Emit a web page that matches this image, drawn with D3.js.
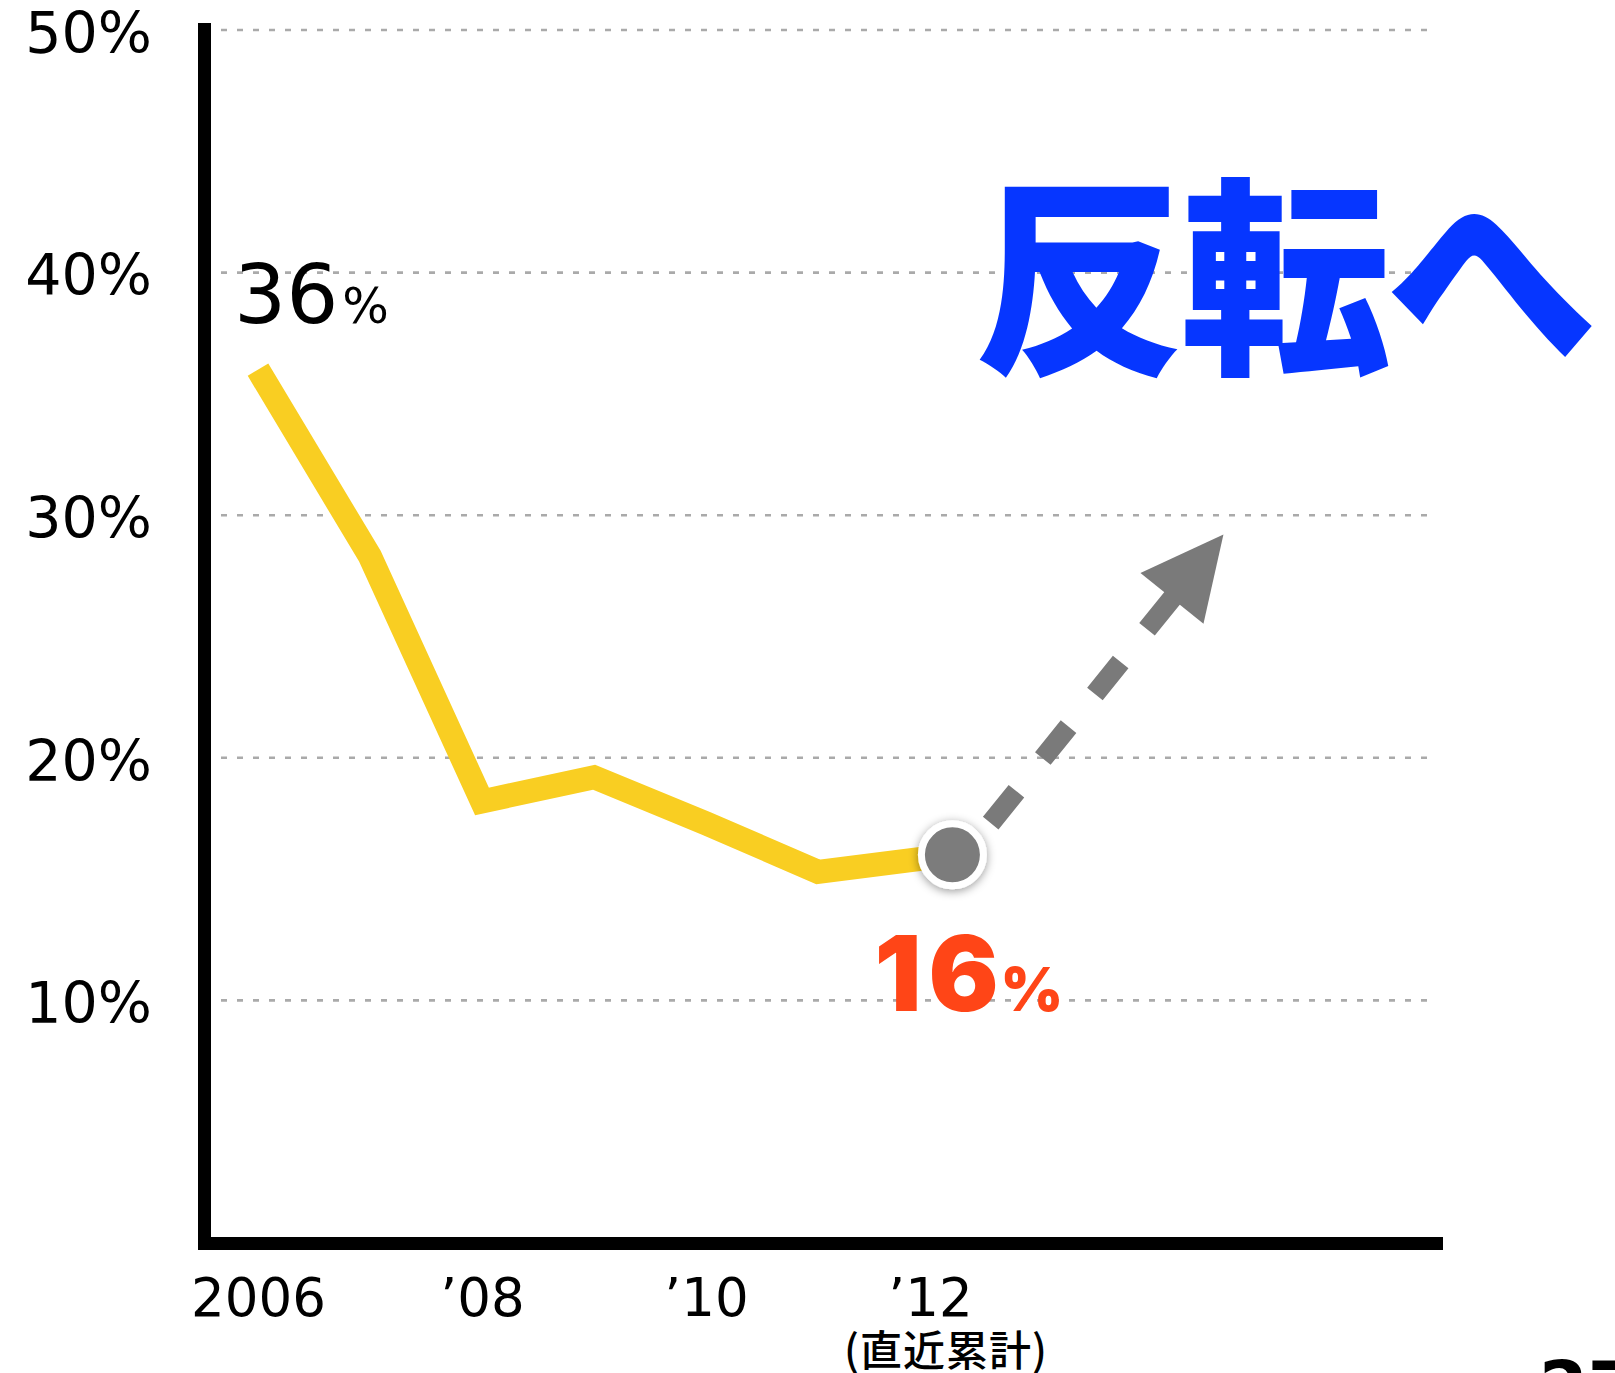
<!DOCTYPE html>
<html lang="ja">
<head>
<meta charset="utf-8">
<script src="https://cdn.jsdelivr.net/npm/d3@7"></script>
<style>
  html, body { margin: 0; padding: 0; background: #fff; }
  svg { display: block; }
</style>
</head>
<body>
<svg id="chart" width="1615" height="1373"></svg>
<script>
// Share by year (%); the last figure is the latest cumulative value,
// plotted a little past the '12 tick.
const years  = [2006, 2007, 2008, 2009, 2010, 2011, 2012.2];
const shares = [36, 28.3, 18.2, 19.2, 17.3, 15.3, 16];

const yTicks = [10, 20, 30, 40, 50];
const xTicks = [2006, 2008, 2010, 2012];
const xTickLabels = ["2006", "’08", "’10", "’12"];
const xTickNote = "(直近累計)";

const headline = "反転へ";
const pageNumber = "27";

// Projected-upturn arrow: tail just below the latest dot, head up to the right (year, %)
const arrowFrom = { year: 2012.2, value: 15.35 };
const arrowTo   = { year: 2014.62, value: 29.2 };

const svg = d3.select("#chart");

const x = d3.scaleLinear().domain([2006, 2012]).range([258, 930]);
const y = d3.scaleLinear().domain([0, 50]).range([1243, 30]);

const defs = svg.append("defs");
const shadow = defs.append("filter")
  .attr("id", "dotShadow")
  .attr("x", "-50%").attr("y", "-50%")
  .attr("width", "200%").attr("height", "200%");
shadow.append("feDropShadow")
  .attr("dx", 0).attr("dy", 2)
  .attr("stdDeviation", 5)
  .attr("flood-color", "#000")
  .attr("flood-opacity", 0.4);

// Dashed horizontal gridlines
svg.append("g")
  .selectAll("line")
  .data(yTicks)
  .join("line")
  .attr("x1", 221).attr("x2", 1427)
  .attr("y1", d => y(d)).attr("y2", d => y(d))
  .attr("stroke", "#aaaaaa")
  .attr("stroke-width", 2.6)
  .attr("stroke-dasharray", "6 10");

// Y axis labels
const yAxis = svg.append("g")
  .attr("transform", "translate(152,0)")
  .call(d3.axisLeft(y).tickValues(yTicks).tickSize(0).tickPadding(0)
    .tickFormat(d => d + "%"));
yAxis.select(".domain").remove();
yAxis.selectAll("text")
  .attr("dy", "0.39em")
  .attr("fill", "#000")
  .style("font-family", "'DejaVu Sans', sans-serif")
  .style("font-size", "57px");

// X axis labels
const xAxis = svg.append("g")
  .attr("transform", `translate(0,${y(0)})`)
  .call(d3.axisBottom(x).tickValues(xTicks).tickSize(0)
    .tickFormat((d, i) => xTickLabels[i]));
xAxis.select(".domain").remove();
xAxis.selectAll("text")
  .attr("y", 73).attr("dy", 0)
  .attr("fill", "#000")
  .style("font-family", "'DejaVu Sans', sans-serif")
  .style("font-size", "53px");

svg.append("text")
  .attr("x", x(2012) + 16)
  .attr("y", 1366)
  .attr("text-anchor", "middle")
  .attr("fill", "#000")
  .attr("letter-spacing", 1)
  .style("font-family", "'Noto Sans CJK JP', sans-serif")
  .style("font-weight", 500)
  .style("font-size", "42px")
  .text(xTickNote);

// Axis frame lines
svg.append("line")
  .attr("x1", 204.5).attr("x2", 204.5)
  .attr("y1", y(50) - 7).attr("y2", y(0) + 7)
  .attr("stroke", "#000").attr("stroke-width", 13);
svg.append("line")
  .attr("x1", 198).attr("x2", 1443)
  .attr("y1", y(0) + 0.5).attr("y2", y(0) + 0.5)
  .attr("stroke", "#000").attr("stroke-width", 13);

// Series line
const pts = years.map((yr, i) => [x(yr), y(shares[i])]);
svg.append("path")
  .attr("d", d3.line()(pts))
  .attr("fill", "none")
  .attr("stroke", "#f9ce22")
  .attr("stroke-width", 24)
  .attr("stroke-linejoin", "miter")
  .attr("stroke-linecap", "butt");

// Projection arrow
const last = pts[pts.length - 1];
const tail = [x(arrowFrom.year), y(arrowFrom.value)];
const tip = [x(arrowTo.year), y(arrowTo.value)];
const dx = tip[0] - tail[0], dy = tip[1] - tail[1];
const len = Math.hypot(dx, dy);
const ux = dx / len, uy = dy / len;
const px = -uy, py = ux;
const headLen = 82, headHalf = 40.5, gapFromDot = 61;
svg.append("line")
  .attr("x1", tail[0] + ux * gapFromDot).attr("y1", tail[1] + uy * gapFromDot)
  .attr("x2", tip[0] - ux * 60).attr("y2", tip[1] - uy * 60)
  .attr("stroke", "#7a7a7a")
  .attr("stroke-width", 20)
  .attr("stroke-dasharray", "41 42");
const base = [tip[0] - ux * headLen, tip[1] - uy * headLen];
svg.append("path")
  .attr("d", d3.line()([
    tip,
    [base[0] + px * headHalf, base[1] + py * headHalf],
    [base[0] - px * headHalf, base[1] - py * headHalf]
  ]) + "Z")
  .attr("fill", "#7a7a7a");

// Latest-value dot
svg.append("circle")
  .attr("cx", last[0]).attr("cy", last[1])
  .attr("r", 31)
  .attr("fill", "#7b7b7b")
  .attr("stroke", "#fff")
  .attr("stroke-width", 7)
  .attr("filter", "url(#dotShadow)");

// Value labels
const startLbl = svg.append("text")
  .attr("x", 234).attr("y", 323)
  .attr("fill", "#000")
  .style("font-family", "'DejaVu Sans', sans-serif");
startLbl.append("tspan").style("font-size", "82px").text(shares[0]);
startLbl.append("tspan").attr("dx", 4).style("font-size", "49px").text("%");

const endLbl = svg.append("text")
  .attr("x", last[0] - 78).attr("y", 1011)
  .attr("fill", "#ff4517")
  .style("font-family", "Inter, Roboto, sans-serif")
  .style("font-weight", 900);
endLbl.append("tspan").style("font-size", "104px").attr("letter-spacing", 7).text(shares[shares.length - 1]);
endLbl.append("tspan").attr("dx", -5).style("font-size", "60px").text("%");

// Headline
svg.append("text")
  .attr("x", 974).attr("y", 358)
  .attr("fill", "#0636ff")
  .attr("letter-spacing", -5)
  .style("font-family", "'Noto Sans CJK JP', sans-serif")
  .style("font-weight", 900)
  .style("font-size", "211px")
  .text(headline);

// Page number, running off the bottom edge
svg.append("text")
  .attr("x", 1539).attr("y", 1411)
  .attr("fill", "#000")
  .style("font-family", "'DejaVu Sans', sans-serif")
  .style("font-weight", 700)
  .style("font-size", "70px")
  .text(pageNumber);
</script>
</body>
</html>
